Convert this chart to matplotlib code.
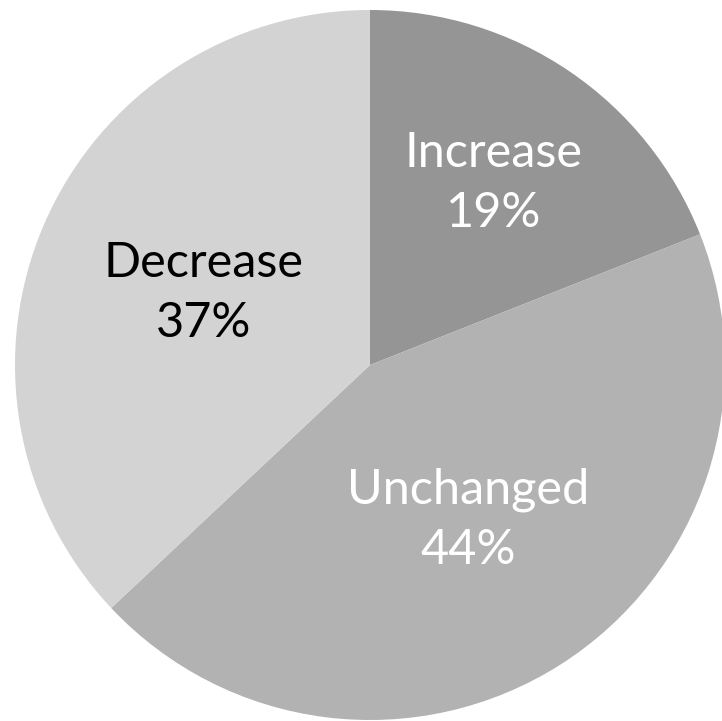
import matplotlib.pyplot as plt
import numpy as np

categories = ["Increase", "Unchanged", "Decrease"]
values = [19, 44, 37]
colors = ["#959595", "#b2b2b2", "#d3d3d3"]
text_colors = ["white", "white", "black"]
label_dist = [0.62, 0.515, 0.51]

W, H = 722, 721
fig = plt.figure(figsize=(W / 100, H / 100), dpi=100)
ax = fig.add_axes([0, 0, 1, 1])

cx, cy, r = 370, H - 365, 355
wedges, _ = ax.pie(values, colors=colors, startangle=90, counterclock=False,
                   center=(cx, cy), radius=r, frame=True,
                   wedgeprops=dict(linewidth=0))
ax.set_xlim(0, W)
ax.set_ylim(0, H)
ax.set_aspect("equal")
ax.axis("off")

total = sum(values)
for w, cat, v, tc, d in zip(wedges, categories, values, text_colors, label_dist):
    mid = np.deg2rad((w.theta1 + w.theta2) / 2)
    x = cx + d * r * np.cos(mid)
    y = cy + d * r * np.sin(mid)
    ax.text(x, y, f"{cat}\n{round(100 * v / total)}%", ha="center", va="center",
            color=tc, fontsize=35, family=["Lato", "DejaVu Sans"], linespacing=1.45)

fig.savefig("out.png", dpi=100)
